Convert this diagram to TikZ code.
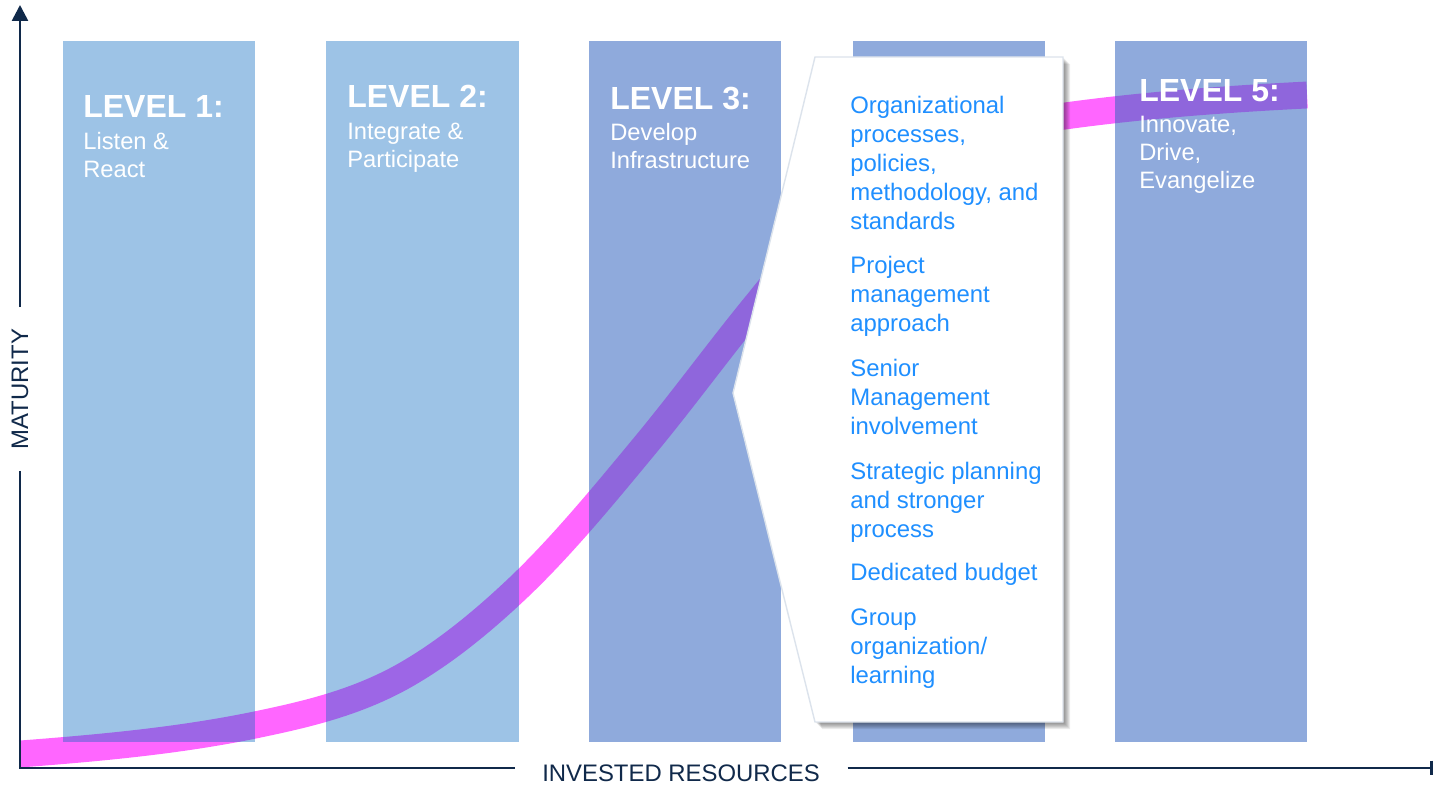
\documentclass[tikz,border=0pt]{standalone}
\usepackage{fontspec}
\setmainfont{Liberation Sans}
\usetikzlibrary{arrows.meta}
\usetikzlibrary{positioning}

\definecolor{axisnavy}{HTML}{10294A}
\definecolor{lightcol}{HTML}{9DC3E6}
\definecolor{darkcol}{HTML}{8FAADC}
\definecolor{curvecol}{HTML}{FF66FF}
\definecolor{itemblue}{HTML}{1F8FFF}
\definecolor{calloutrim}{HTML}{DCE3EC}

\begin{document}
\begin{tikzpicture}[x=0.02cm,y=-0.02cm,
  axis/.style={axisnavy,line width=1.5pt},
  axislabel/.style={text=axisnavy,fill=white,font=\fontsize{13.6}{15}\selectfont,inner ysep=1pt},
  lvltitle/.style={text=white,anchor=base west,inner sep=0pt,font=\bfseries\fontsize{18.2}{20}\selectfont},
  lvltext/.style={text=white,anchor=base west,inner sep=0pt,align=left,font=\fontsize{13.5}{15.9}\selectfont},
  item/.style={text=itemblue,anchor=base west,inner sep=0pt,align=left,font=\fontsize{13.6}{16.4}\selectfont}]
\fill[white] (0,0) rectangle (1435,784);
\useasboundingbox (0,0) rectangle (1435,784);

% columns
\fill[lightcol] (63,41) rectangle (255,742);
\fill[lightcol] (326,41) rectangle (519,742);
\fill[darkcol] (589,41) rectangle (781,742);
\fill[darkcol] (853,41) rectangle (1045,742);
\fill[darkcol] (1115,41) rectangle (1307,742);

% maturity curve
\begin{scope}[blend mode=darken]
\draw[curvecol,line width=15.3pt] (20,754) .. controls (98,748) and (177,741) .. (255,725)
  .. controls (303,715) and (352,704) .. (400,678)
  .. controls (440,656) and (479,625) .. (519,587)
  .. controls (562,546) and (604,495) .. (647,443)
  .. controls (685,397) and (722,346) .. (760,300)
  .. controls (830,210) and (965,130) .. (1065,116)
  .. controls (1145,105) and (1227,99) .. (1307,95);
\end{scope}

% level texts
\node[lvltitle] (lvl1) at (83,117) {LEVEL 1:};
\node[lvltext] (sub1) at (83,177) {Listen \&\\React};
\node[lvltitle] (lvl2) at (347,108) {LEVEL 2:};
\node[lvltext] (sub2) at (347,167) {Integrate \&\\Participate};
\node[lvltitle] (lvl3) at (610,110) {LEVEL 3:};
\node[lvltext] (sub3) at (610,168) {Develop\\Infrastructure};
\node[lvltitle] (lvl5) at (1139,101) {LEVEL 5:};
\node[lvltext] (sub5) at (1139,188) {Innovate,\\Drive,\\Evangelize};

% callout
\foreach \d in {1,2,...,7}
  \fill[black,opacity=0.075,shift={(\d,\d)}] (815,57) -- (1063,57) -- (1063,722) -- (815,722) -- (733,393) -- cycle;
\draw[calloutrim,fill=white,line width=0.8pt] (815,57) -- (1063,57) -- (1063,722) -- (815,722) -- (733,393) -- cycle;

\node[item] (org) at (850,229) {Organizational\\processes,\\policies,\\methodology, and\\standards};
\node[item] (proj) at (850,331) {Project\\management\\approach};
\node[item] (senior) at (850,434) {Senior\\Management\\involvement};
\node[item] (strat) at (850,537) {Strategic planning\\and stronger\\process};
\node[item] (budget) at (850,580) {Dedicated budget};
\node[item] (group) at (850,683) {Group\\organization/\\learning};

% axes
\coordinate (origin) at (20,768);
\coordinate (ytop) at (20,5);
\coordinate (xend) at (1433,768);
\node[axislabel,rotate=90,inner xsep=12.2pt] (maturity) at (20,389) {MATURITY};
\node[axislabel,inner xsep=15.6pt] (invested) at (681,773) {INVESTED RESOURCES};
\draw[axis,-{Triangle[width=9pt,length=9pt]}] (maturity) -- (ytop);
\draw[axis] (maturity) -- (origin) -- (invested.west |- origin);
\draw[axis,-{Bar[width=8.5pt]}] (invested.east |- origin) -- (xend);

\end{tikzpicture}
\end{document}
